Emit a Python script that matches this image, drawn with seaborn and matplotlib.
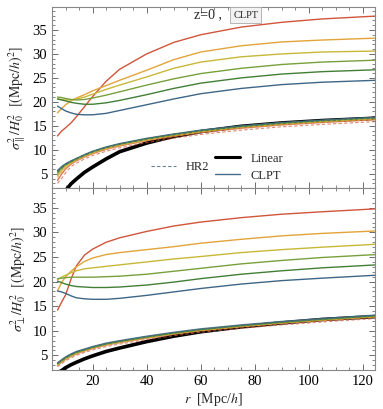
import numpy as np
import pandas as pd
import seaborn as sns
import matplotlib.pyplot as plt
from matplotlib.lines import Line2D

# separation grid [Mpc/h]
r = [7, 8.5, 10, 12, 14, 17, 20, 25, 30, 40, 50, 60, 75, 90, 105, 125]

colors = ['#D0553A', '#E2A43A', '#C8B838', '#77A03C', '#437E36', '#3F6686']

# sigma_parallel, upper family of curves (CLPT)
para_red    = [12.9, 13.9, 14.6, 15.6, 16.9, 19.0, 21.1, 24.3, 26.8, 30.0, 32.4, 34.0, 35.6, 36.6, 37.3, 37.9]
para_orange = [17.7, 18.6, 19.4, 20.2, 20.8, 21.5, 22.3, 23.4, 24.5, 26.6, 28.8, 30.4, 31.7, 32.5, 32.9, 33.3]
para_yellow = [20.6, 20.5, 20.4, 20.4, 20.6, 21.0, 21.6, 22.6, 23.5, 25.2, 27.0, 28.3, 29.4, 30.0, 30.4, 30.6]
para_lgreen = [21.0, 20.9, 20.7, 20.5, 20.4, 20.5, 20.8, 21.4, 22.1, 23.5, 24.8, 25.9, 27.0, 27.8, 28.3, 28.7]
para_dgreen = [20.6, 20.4, 20.2, 19.9, 19.7, 19.5, 19.5, 19.8, 20.3, 21.5, 22.8, 23.9, 25.0, 25.8, 26.3, 26.7]
para_blue   = [19.1, 18.6, 18.1, 17.7, 17.4, 17.3, 17.3, 17.6, 18.2, 19.4, 20.6, 21.7, 22.8, 23.6, 24.1, 24.5]

# sigma_parallel, lower bundle (CLPT solid / HR2 dashed), one row per colour
para_low_clpt = [
    [3.6, 4.9, 6.0, 7.0, 7.7, 8.5, 9.2, 10.1, 10.8, 11.9, 12.8, 13.6, 14.5, 15.2, 15.7, 16.3],
    [4.5, 5.6, 6.5, 7.3, 7.9, 8.7, 9.4, 10.3, 11.0, 12.1, 13.0, 13.8, 14.7, 15.4, 15.9, 16.5],
    [4.9, 5.9, 6.7, 7.4, 8.0, 8.8, 9.5, 10.4, 11.1, 12.2, 13.1, 13.9, 14.8, 15.5, 16.0, 16.6],
    [5.3, 6.2, 6.9, 7.5, 8.1, 8.9, 9.6, 10.5, 11.2, 12.3, 13.2, 14.0, 14.9, 15.6, 16.1, 16.7],
    [5.5, 6.3, 7.0, 7.6, 8.1, 8.9, 9.6, 10.5, 11.2, 12.3, 13.2, 14.0, 14.9, 15.6, 16.1, 16.7],
    [5.7, 6.5, 7.1, 7.7, 8.2, 9.0, 9.7, 10.6, 11.3, 12.4, 13.3, 14.1, 15.0, 15.7, 16.2, 16.8],
]
para_low_hr2 = [
    [3.0, 4.0, 5.2, 6.5, 7.2, 8.1, 8.8, 9.7, 10.4, 11.5, 12.4, 13.2, 14.1, 14.8, 15.3, 15.9],
    [4.0, 5.2, 6.2, 7.1, 7.7, 8.5, 9.2, 10.1, 10.8, 11.9, 12.8, 13.6, 14.5, 15.2, 15.7, 16.3],
    [4.6, 5.7, 6.6, 7.3, 7.9, 8.7, 9.4, 10.3, 11.0, 12.1, 13.0, 13.8, 14.7, 15.4, 15.9, 16.5],
    [5.0, 6.0, 6.8, 7.4, 8.0, 8.8, 9.5, 10.4, 11.1, 12.2, 13.1, 13.9, 14.8, 15.5, 16.0, 16.6],
    [5.3, 6.2, 6.9, 7.5, 8.1, 8.9, 9.6, 10.5, 11.2, 12.3, 13.2, 14.0, 14.9, 15.6, 16.1, 16.7],
    [5.5, 6.4, 7.0, 7.6, 8.2, 8.9, 9.6, 10.5, 11.2, 12.3, 13.2, 14.0, 14.9, 15.6, 16.1, 16.7],
]
para_linear = [-1.5, 0.2, 1.5, 2.9, 3.9, 5.3, 6.4, 8.1, 9.6, 11.4, 12.8, 13.8, 14.9, 15.6, 16.1, 16.6]

# sigma_perp, upper family of curves (CLPT)
perp_red    = [14.2, 15.8, 17.3, 20.5, 23.2, 25.4, 26.6, 28.0, 28.9, 30.2, 31.3, 32.1, 33.0, 33.7, 34.2, 34.8]
perp_orange = [18.1, 19.8, 21.0, 22.1, 23.0, 24.1, 24.8, 25.5, 25.9, 26.5, 27.1, 27.8, 28.6, 29.3, 29.8, 30.3]
perp_yellow = [20.4, 20.9, 21.3, 21.8, 22.2, 22.6, 22.8, 23.1, 23.4, 24.0, 24.6, 25.1, 25.9, 26.5, 27.0, 27.6]
perp_lgreen = [20.6, 20.7, 20.8, 20.9, 20.9, 20.9, 20.9, 21.0, 21.1, 21.5, 22.1, 22.7, 23.6, 24.3, 24.9, 25.5]
perp_dgreen = [20.1, 19.8, 19.5, 19.2, 19.0, 18.9, 18.8, 18.8, 18.9, 19.3, 19.9, 20.6, 21.5, 22.2, 22.8, 23.4]
perp_blue   = [18.1, 17.9, 17.6, 17.1, 16.7, 16.5, 16.4, 16.4, 16.6, 17.2, 17.9, 18.6, 19.5, 20.2, 20.7, 21.3]

perp_low_clpt = [
    [3.0, 3.6, 4.2, 4.8, 5.3, 5.9, 6.4, 7.1, 7.6, 8.5, 9.3, 10.0, 10.8, 11.5, 12.1, 12.8],
    [3.1, 3.7, 4.3, 4.9, 5.4, 6.0, 6.5, 7.2, 7.7, 8.6, 9.4, 10.1, 10.9, 11.6, 12.2, 12.9],
    [3.2, 3.8, 4.4, 5.0, 5.5, 6.1, 6.6, 7.3, 7.8, 8.7, 9.5, 10.2, 11.0, 11.7, 12.3, 13.0],
    [3.3, 3.9, 4.5, 5.1, 5.6, 6.1, 6.6, 7.3, 7.8, 8.7, 9.5, 10.2, 11.0, 11.7, 12.3, 13.0],
    [3.4, 4.0, 4.6, 5.2, 5.7, 6.2, 6.7, 7.4, 7.9, 8.8, 9.6, 10.3, 11.1, 11.8, 12.4, 13.1],
    [3.5, 4.1, 4.7, 5.3, 5.8, 6.3, 6.8, 7.5, 8.0, 8.9, 9.7, 10.4, 11.2, 11.9, 12.5, 13.2],
]
perp_low_hr2 = [
    [2.7, 3.3, 3.9, 4.5, 5.0, 5.6, 6.1, 6.8, 7.3, 8.2, 9.0, 9.7, 10.5, 11.2, 11.8, 12.5],
    [3.0, 3.6, 4.2, 4.8, 5.3, 5.9, 6.4, 7.1, 7.6, 8.5, 9.3, 10.0, 10.8, 11.5, 12.1, 12.8],
    [3.1, 3.7, 4.3, 4.9, 5.4, 6.0, 6.5, 7.2, 7.7, 8.6, 9.4, 10.1, 10.9, 11.6, 12.2, 12.9],
    [3.2, 3.8, 4.4, 5.0, 5.5, 6.1, 6.6, 7.3, 7.8, 8.7, 9.5, 10.2, 11.0, 11.7, 12.3, 13.0],
    [3.3, 3.9, 4.5, 5.1, 5.6, 6.1, 6.6, 7.3, 7.8, 8.7, 9.5, 10.2, 11.0, 11.7, 12.3, 13.0],
    [3.4, 4.0, 4.6, 5.2, 5.7, 6.2, 6.7, 7.4, 7.9, 8.8, 9.6, 10.3, 11.1, 11.8, 12.4, 13.1],
]
perp_linear = [1.5, 1.9, 2.5, 3.1, 3.6, 4.3, 4.9, 5.8, 6.5, 7.8, 8.9, 9.8, 10.8, 11.6, 12.3, 12.9]

sns.set_style('ticks')
plt.rcParams['font.family'] = ['Liberation Serif', 'DejaVu Serif']
plt.rcParams['mathtext.fontset'] = 'stix'

fig = plt.figure(figsize=(3.83, 4.09), dpi=100)
ax1 = fig.add_axes([0.136, 0.540, 0.843, 0.443])
ax2 = fig.add_axes([0.136, 0.095, 0.843, 0.445], sharex=ax1)

panels = [
    (ax1, [para_red, para_orange, para_yellow, para_lgreen, para_dgreen, para_blue],
     para_low_clpt, para_low_hr2, para_linear, (2, 39.8)),
    (ax2, [perp_red, perp_orange, perp_yellow, perp_lgreen, perp_dgreen, perp_blue],
     perp_low_clpt, perp_low_hr2, perp_linear, (2, 37.1)),
]

for ax, upper, low_clpt, low_hr2, lin, ylim in panels:
    sns.lineplot(x=r, y=lin, ax=ax, color='black', lw=2.6, zorder=2)
    for vals, c in zip(low_clpt, colors):
        sns.lineplot(x=r, y=vals, ax=ax, color=c, lw=1.0, alpha=0.8, zorder=3)
    for vals, c in zip(low_hr2, colors):
        sns.lineplot(x=r, y=vals, ax=ax, color=c, lw=0.8, ls=(0, (3, 2)), alpha=0.7, zorder=4)
    for vals, c in zip(upper, colors):
        sns.lineplot(x=r, y=vals, ax=ax, color=c, lw=1.0, zorder=5)
    ax.set_xlim(5.2, 124.5)
    ax.set_ylim(*ylim)
    ax.set_yticks([5, 10, 15, 20, 25, 30, 35])
    ax.set_xticks([20, 40, 60, 80, 100, 120])
    ax.set_xticks(np.arange(5, 125, 5), minor=True)
    ax.set_yticks(np.arange(2, 40, 1), minor=True)
    ax.tick_params(which='both', direction='in', top=True, right=True,
                   colors='#555555', labelcolor='black', labelsize=10.5)
    ax.tick_params(which='major', length=4, width=0.6)
    ax.tick_params(which='minor', length=2, width=0.5)
    for s in ax.spines.values():
        s.set_color('#888888')
        s.set_linewidth(0.8)

ax1.tick_params(labelbottom=False)
ax1.set_ylabel(r'$\sigma^2_{\parallel}/H_0^2$  $[(\mathrm{Mpc}/h)^2]$', fontsize=10, labelpad=3)
ax2.set_ylabel(r'$\sigma^2_{\perp}/H_0^2$  $[(\mathrm{Mpc}/h)^2]$', fontsize=10, labelpad=3)
ax2.set_xlabel(r'$r$  [Mpc/$h$]', fontsize=10, labelpad=2)

ax1.text(0.44, 0.955, 'z=0 ,', transform=ax1.transAxes, fontsize=10, va='center', ha='left')
ax1.text(0.60, 0.955, 'CLPT', transform=ax1.transAxes, fontsize=7.5, va='center', ha='center',
         bbox=dict(boxstyle='square,pad=0.3', facecolor='#f2f2f2', edgecolor='#aaaaaa', lw=0.6))

h_hr2 = [Line2D([], [], color='#6b7f90', lw=0.8, ls=(0, (3, 2)))]
leg1 = ax1.legend(h_hr2, ['HR2'], loc='center left', bbox_to_anchor=(0.29, 0.116),
                  frameon=False, fontsize=9, handlelength=2.0, borderaxespad=0)
ax1.add_artist(leg1)
h_main = [Line2D([], [], color='black', lw=2.2), Line2D([], [], color='#4a6a8a', lw=1.0)]
ax1.legend(h_main, ['Linear', 'CLPT'], loc='center left', bbox_to_anchor=(0.49, 0.116),
           frameon=False, fontsize=9, handlelength=2.0, borderaxespad=0, labelspacing=0.4)

fig.savefig('out.png', dpi=100)
